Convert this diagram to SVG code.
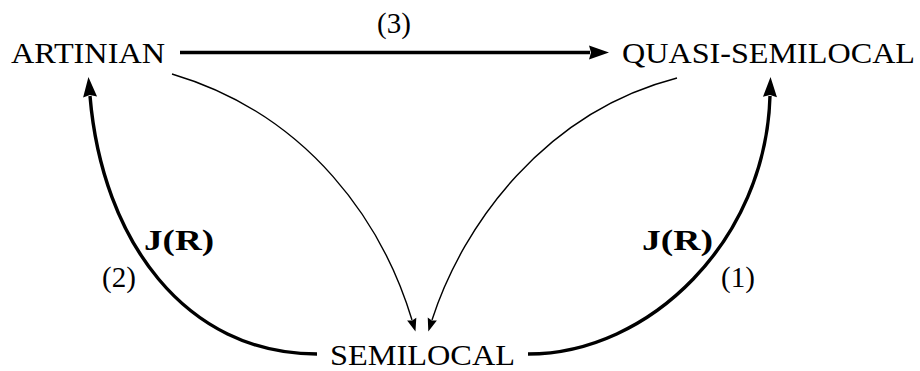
<svg xmlns="http://www.w3.org/2000/svg" width="920" height="371" viewBox="0 0 920 371">
<style>
  text { font-family: "Liberation Serif", "DejaVu Serif", serif; fill: #000; }
  .node { font-size: 30px; }
  .lbl { font-size: 29px; }
  .bold { font-size: 29px; font-weight: bold; }
  .thick { fill: none; stroke: #000; stroke-width: 3.4; }
  .thin { fill: none; stroke: #000; stroke-width: 1.4; }
</style>
<defs>
  <marker id="big" markerUnits="userSpaceOnUse" markerWidth="24" markerHeight="18" viewBox="-2 -9 24 18" refX="1" refY="0" orient="auto">
    <path d="M0,-7 L20,0 L0,7 L2,0 z" fill="#000"/>
  </marker>
  <marker id="small" markerUnits="userSpaceOnUse" markerWidth="16" markerHeight="12" viewBox="-2 -6 16 12" refX="1" refY="0" orient="auto">
    <path d="M0,-4.8 L13,0 L0,4.8 L1.5,0 z" fill="#000"/>
  </marker>
</defs>
<g id="connectors">
  <path id="e3" class="thick" d="M180,52.5 L590,52.5" marker-end="url(#big)"/>
  <path id="e2" class="thick" d="M317,354 C185,354 102,240 90,96" marker-end="url(#big)"/>
  <path id="e1" class="thick" d="M528,354 C650,354 766,240 770,96" marker-end="url(#big)"/>
  <path id="eA" class="thin" d="M172,74 C310,115 383,224 412,320" marker-end="url(#small)"/>
  <path id="eQ" class="thin" d="M677,78 C545,112 463,224 432,320" marker-end="url(#small)"/>
</g>
<g id="labels">
  <text class="lbl" x="377" y="33">(3)</text>
  <text class="bold" x="144" y="250" textLength="70" lengthAdjust="spacingAndGlyphs">J(R)</text>
  <text class="lbl" x="102" y="287">(2)</text>
  <text class="bold" x="642" y="250" textLength="71" lengthAdjust="spacingAndGlyphs">J(R)</text>
  <text class="lbl" x="721" y="287">(1)</text>
</g>
<g id="artinian">
  <text class="node" x="11" y="63" textLength="154" lengthAdjust="spacingAndGlyphs">ARTINIAN</text>
</g>
<g id="quasi-semilocal">
  <text class="node" x="622" y="63" textLength="293" lengthAdjust="spacingAndGlyphs">QUASI-SEMILOCAL</text>
</g>
<g id="semilocal">
  <text class="node" x="330" y="365" textLength="185" lengthAdjust="spacingAndGlyphs">SEMILOCAL</text>
</g>
</svg>
